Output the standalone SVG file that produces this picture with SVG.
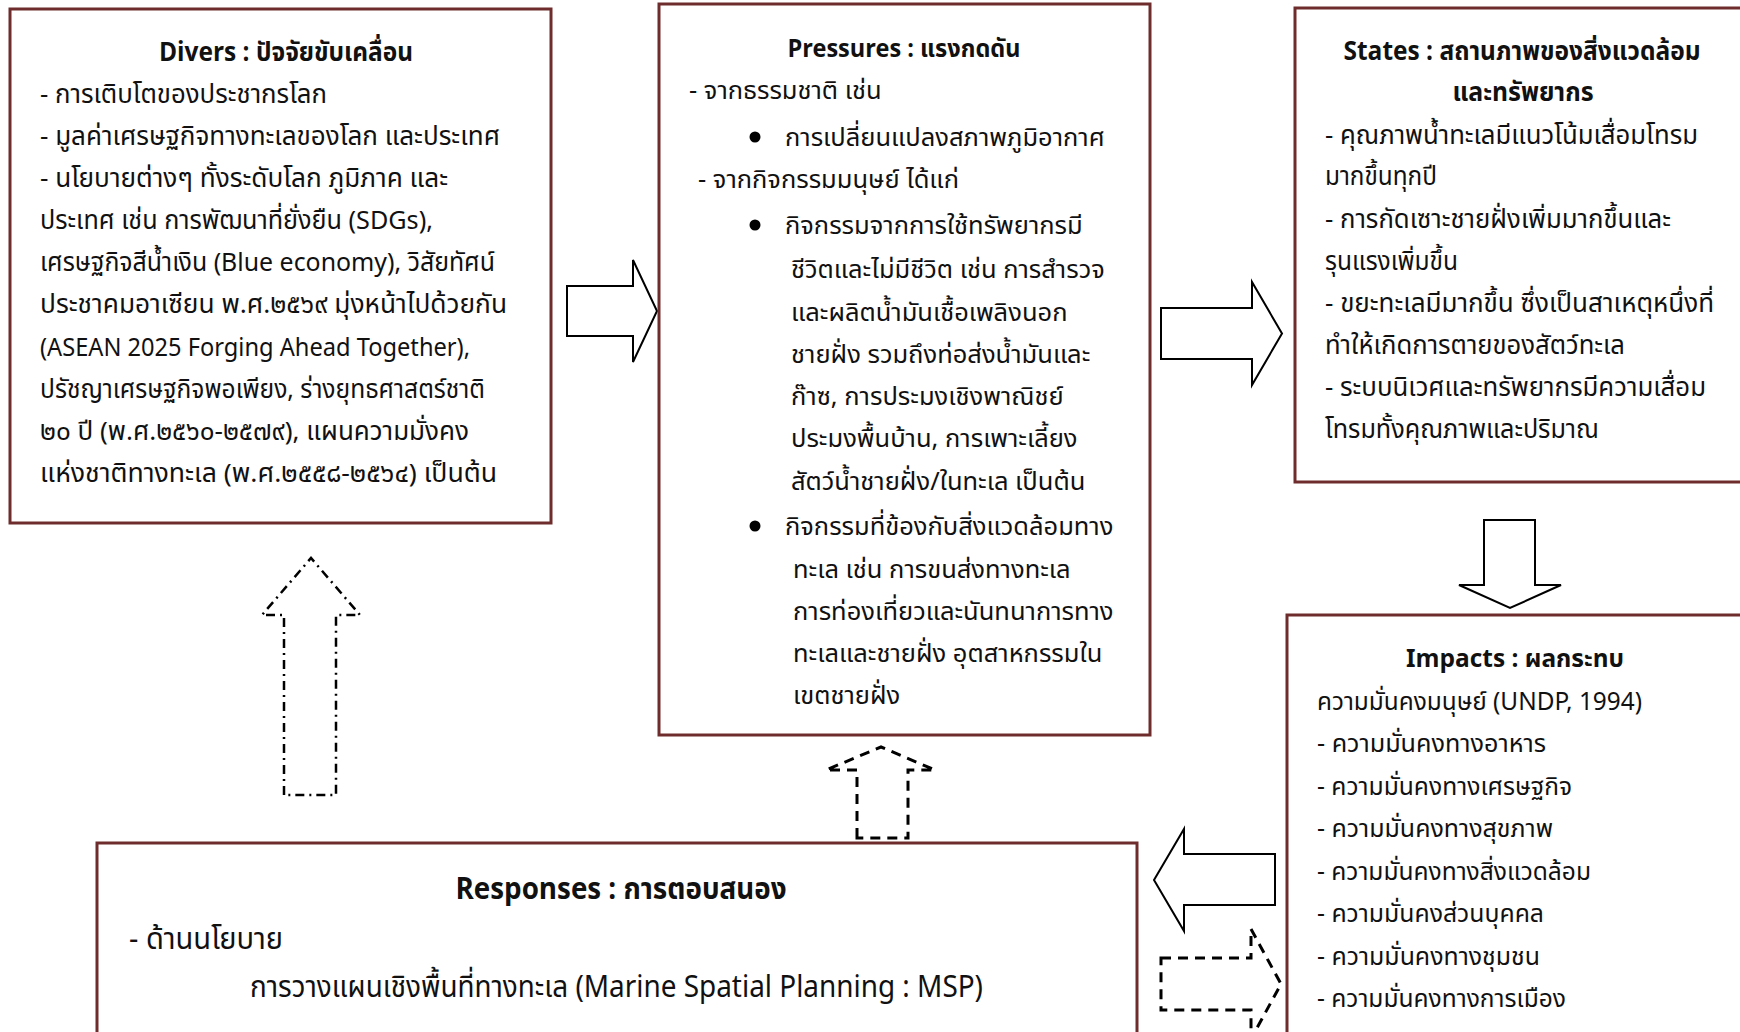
<svg xmlns="http://www.w3.org/2000/svg" width="1740" height="1032" viewBox="0 0 1740 1032">
<style>
.box{fill:#fff;stroke:#6e2c2c;stroke-width:3}
.t{font-family:"Noto Sans Thai","Leelawadee UI",Tahoma,"DejaVu Sans","Noto Sans",sans-serif;font-size:26px;fill:#111}
.p{font-size:25.5px}
.i{font-size:25px}
.r{font-size:30px}
.h{font-weight:bold;text-anchor:middle}
.arr{fill:#fff;stroke:#000;stroke-width:2;stroke-linejoin:miter}
.dash{fill:none;stroke:#000;stroke-width:3;stroke-dasharray:10 7}
.dashdot{fill:none;stroke:#000;stroke-width:2.5;stroke-dasharray:9 5 2 5}
</style>
<rect width="1740" height="1032" fill="#fff"/>
<g id="connectors">
<polygon class="arr" points="567,286 633,286 633,260 657,311 633,362 633,336 567,336"/>
<polygon class="arr" points="1161,308 1252,308 1252,282 1282,333.5 1252,385 1252,359 1161,359"/>
<polygon class="arr" points="1484,520 1535,520 1535,585 1561,585 1510,608 1459,585 1484,585"/>
<polygon class="arr" points="1275,854 1184,854 1184,829 1154,880 1184,931 1184,905 1275,905"/>
<polygon class="dash" points="1161,958 1251,958 1251,929 1281,984 1251,1039 1251,1010 1161,1010"/>
<polygon class="dash" points="857,838 857,770 826,770 881,747 935,770 908,770 908,838"/>
<polygon class="dashdot" points="284,795 284,615 262,615 311,558 360,615 336,615 336,795"/>
</g>
<g id="drivers">
<rect class="box" x="10" y="9" width="541" height="514"/>
<text class="t h" x="286" y="61" textLength="254" lengthAdjust="spacingAndGlyphs">Divers : ปัจจัยขับเคลื่อน</text>
<text class="t" x="40" y="103" textLength="287" lengthAdjust="spacingAndGlyphs">- การเติบโตของประชากรโลก</text>
<text class="t" x="40" y="145" textLength="460" lengthAdjust="spacingAndGlyphs">- มูลค่าเศรษฐกิจทางทะเลของโลก และประเทศ</text>
<text class="t" x="40" y="187" textLength="408" lengthAdjust="spacingAndGlyphs">- นโยบายต่างๆ ทั้งระดับโลก ภูมิภาค และ</text>
<text class="t" x="40" y="229" textLength="393" lengthAdjust="spacingAndGlyphs">ประเทศ เช่น การพัฒนาที่ยั่งยืน (SDGs),</text>
<text class="t" x="40" y="271" textLength="455" lengthAdjust="spacingAndGlyphs">เศรษฐกิจสีน้ำเงิน (Blue economy), วิสัยทัศน์</text>
<text class="t" x="40" y="313" textLength="467" lengthAdjust="spacingAndGlyphs">ประชาคมอาเซียน พ.ศ.๒๕๖๙ มุ่งหน้าไปด้วยกัน</text>
<text class="t" x="40" y="356" textLength="430" lengthAdjust="spacingAndGlyphs">(ASEAN 2025 Forging Ahead Together),</text>
<text class="t" x="40" y="398" textLength="445" lengthAdjust="spacingAndGlyphs">ปรัชญาเศรษฐกิจพอเพียง, ร่างยุทธศาสตร์ชาติ</text>
<text class="t" x="40" y="440" textLength="429" lengthAdjust="spacingAndGlyphs">๒๐ ปี (พ.ศ.๒๕๖๐-๒๕๗๙), แผนความมั่งคง</text>
<text class="t" x="40" y="482" textLength="457" lengthAdjust="spacingAndGlyphs">แห่งชาติทางทะเล (พ.ศ.๒๕๕๘-๒๕๖๔) เป็นต้น</text>
</g>
<g id="pressures">
<rect class="box" x="659" y="4" width="491" height="731"/>
<text class="t p h" x="904" y="57" textLength="233" lengthAdjust="spacingAndGlyphs">Pressures : แรงกดดัน</text>
<text class="t p" x="689" y="99">- จากธรรมชาติ เช่น</text>
<circle cx="755" cy="137" r="5.5"/>
<text class="t p" x="785" y="146">การเปลี่ยนแปลงสภาพภูมิอากาศ</text>
<text class="t p" x="698" y="188">- จากกิจกรรมมนุษย์ ได้แก่</text>
<circle cx="755" cy="225" r="5.5"/>
<text class="t p" x="785" y="234">กิจกรรมจากการใช้ทรัพยากรมี</text>
<text class="t p" x="791" y="278">ชีวิตและไม่มีชีวิต เช่น การสำรวจ</text>
<text class="t p" x="791" y="321">และผลิตน้ำมันเชื้อเพลิงนอก</text>
<text class="t p" x="791" y="363">ชายฝั่ง รวมถึงท่อส่งน้ำมันและ</text>
<text class="t p" x="791" y="405">ก๊าซ, การประมงเชิงพาณิชย์</text>
<text class="t p" x="791" y="447">ประมงพื้นบ้าน, การเพาะเลี้ยง</text>
<text class="t p" x="791" y="490">สัตว์น้ำชายฝั่ง/ในทะเล เป็นต้น</text>
<circle cx="755" cy="526" r="5.5"/>
<text class="t p" x="785" y="535">กิจกรรมที่ข้องกับสิ่งแวดล้อมทาง</text>
<text class="t p" x="793" y="578">ทะเล เช่น การขนส่งทางทะเล</text>
<text class="t p" x="793" y="620">การท่องเที่ยวและนันทนาการทาง</text>
<text class="t p" x="793" y="662">ทะเลและชายฝั่ง อุตสาหกรรมใน</text>
<text class="t p" x="793" y="704">เขตชายฝั่ง</text>
</g>
<g id="states">
<rect class="box" x="1295" y="8" width="460" height="474"/>
<text class="t h" x="1522" y="60" textLength="357" lengthAdjust="spacingAndGlyphs">States : สถานภาพของสิ่งแวดล้อม</text>
<text class="t h" x="1523" y="101" textLength="141" lengthAdjust="spacingAndGlyphs">และทรัพยากร</text>
<text class="t" x="1325" y="144" textLength="373" lengthAdjust="spacingAndGlyphs">- คุณภาพน้ำทะเลมีแนวโน้มเสื่อมโทรม</text>
<text class="t" x="1325" y="185" textLength="112" lengthAdjust="spacingAndGlyphs">มากขึ้นทุกปี</text>
<text class="t" x="1325" y="228" textLength="346" lengthAdjust="spacingAndGlyphs">- การกัดเซาะชายฝั่งเพิ่มมากขึ้นและ</text>
<text class="t" x="1325" y="270" textLength="133" lengthAdjust="spacingAndGlyphs">รุนแรงเพิ่มขึ้น</text>
<text class="t" x="1325" y="312" textLength="389" lengthAdjust="spacingAndGlyphs">- ขยะทะเลมีมากขึ้น ซึ่งเป็นสาเหตุหนึ่งที่</text>
<text class="t" x="1325" y="354" textLength="300" lengthAdjust="spacingAndGlyphs">ทำให้เกิดการตายของสัตว์ทะเล</text>
<text class="t" x="1325" y="396" textLength="381" lengthAdjust="spacingAndGlyphs">- ระบบนิเวศและทรัพยากรมีความเสื่อม</text>
<text class="t" x="1325" y="438" textLength="274" lengthAdjust="spacingAndGlyphs">โทรมทั้งคุณภาพและปริมาณ</text>
</g>
<g id="impacts">
<rect class="box" x="1287" y="615" width="470" height="430"/>
<text class="t i h" x="1515" y="667" textLength="218" lengthAdjust="spacingAndGlyphs">Impacts : ผลกระทบ</text>
<text class="t i" x="1317" y="710" textLength="325" lengthAdjust="spacingAndGlyphs">ความมั่นคงมนุษย์ (UNDP, 1994)</text>
<text class="t i" x="1317" y="752" textLength="229" lengthAdjust="spacingAndGlyphs">- ความมั่นคงทางอาหาร</text>
<text class="t i" x="1317" y="795" textLength="255" lengthAdjust="spacingAndGlyphs">- ความมั่นคงทางเศรษฐกิจ</text>
<text class="t i" x="1317" y="837" textLength="236" lengthAdjust="spacingAndGlyphs">- ความมั่นคงทางสุขภาพ</text>
<text class="t i" x="1317" y="880" textLength="274" lengthAdjust="spacingAndGlyphs">- ความมั่นคงทางสิ่งแวดล้อม</text>
<text class="t i" x="1317" y="922" textLength="227" lengthAdjust="spacingAndGlyphs">- ความมั่นคงส่วนบุคคล</text>
<text class="t i" x="1317" y="965" textLength="223" lengthAdjust="spacingAndGlyphs">- ความมั่นคงทางชุมชน</text>
<text class="t i" x="1317" y="1007" textLength="249" lengthAdjust="spacingAndGlyphs">- ความมั่นคงทางการเมือง</text>
</g>
<g id="responses">
<rect class="box" x="97" y="843" width="1040" height="200"/>
<text class="t r h" x="621" y="899" textLength="331" lengthAdjust="spacingAndGlyphs">Responses : การตอบสนอง</text>
<text class="t r" x="129" y="949" textLength="154" lengthAdjust="spacingAndGlyphs">- ด้านนโยบาย</text>
<text class="t r" x="250" y="997" textLength="733" lengthAdjust="spacingAndGlyphs">การวางแผนเชิงพื้นที่ทางทะเล (Marine Spatial Planning : MSP)</text>
</g>
</svg>
